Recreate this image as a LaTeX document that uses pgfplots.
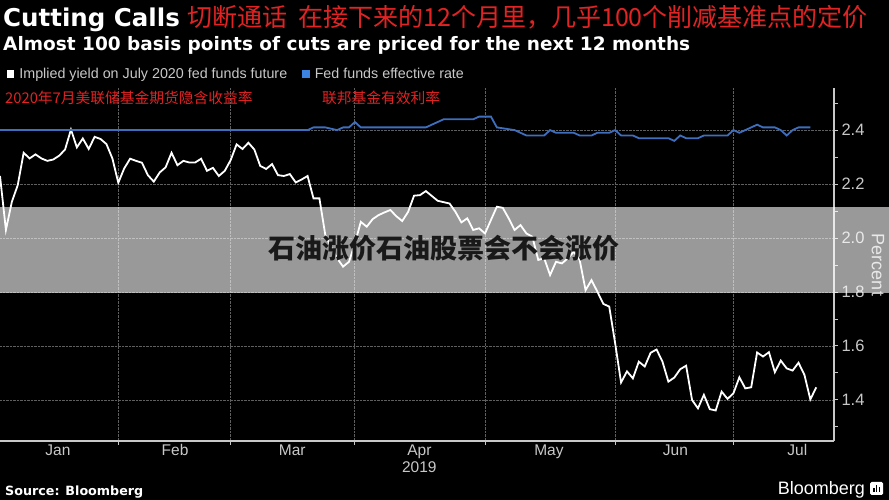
\documentclass[border=0pt]{standalone}
\usepackage{pgfplots}
\usepackage{pgfplotstable}
\pgfplotsset{compat=1.18}
\usepackage{fontspec}
\setmainfont{Liberation Sans}
\newfontfamily\dejavu{DejaVu Sans}
\newfontfamily\cjk{Noto Sans CJK SC}

\definecolor{lightgray}{RGB}{200,200,200}
\definecolor{gridgray}{RGB}{95,95,95}
\definecolor{fedblue}{RGB}{62,110,190}
\definecolor{legblue}{RGB}{60,130,225}
\definecolor{cnred}{RGB}{225,35,35}
\definecolor{wmark}{RGB}{25,25,25}

% implied yield, July 2020 fed funds future (x = trading day of 2019)
\pgfplotstableread{
idx yield
1 2.230
2 2.030
3 2.134
4 2.196
5 2.316
6 2.295
7 2.310
8 2.295
9 2.286
10 2.291
11 2.305
12 2.328
13 2.402
14 2.336
15 2.369
16 2.330
17 2.375
18 2.367
19 2.348
20 2.295
21 2.205
22 2.258
23 2.294
24 2.286
25 2.279
26 2.233
27 2.209
28 2.243
29 2.262
30 2.316
31 2.270
32 2.286
33 2.280
34 2.280
35 2.294
36 2.249
37 2.260
38 2.230
39 2.249
40 2.289
41 2.347
42 2.330
43 2.353
44 2.328
45 2.267
46 2.256
47 2.274
48 2.233
49 2.230
50 2.237
51 2.206
52 2.217
53 2.230
54 2.147
55 2.147
56 2.011
57 1.965
58 1.925
59 1.894
60 1.912
61 1.980
62 2.060
63 2.042
64 2.070
65 2.085
66 2.095
67 2.104
68 2.081
69 2.063
70 2.097
71 2.157
72 2.159
73 2.174
74 2.156
75 2.138
76 2.133
77 2.128
78 2.097
79 2.058
80 2.073
81 2.030
82 2.036
83 2.017
84 2.067
85 2.116
86 2.112
87 2.073
88 2.030
89 2.048
90 2.017
91 2.005
92 1.919
93 1.925
94 1.863
95 1.912
96 1.906
97 1.925
98 1.949
99 1.919
100 1.807
101 1.844
102 1.801
103 1.756
104 1.746
105 1.610
106 1.465
107 1.506
108 1.480
109 1.542
110 1.524
111 1.575
112 1.587
113 1.542
114 1.468
115 1.483
116 1.514
117 1.527
118 1.400
119 1.369
120 1.419
121 1.366
122 1.361
123 1.431
124 1.404
125 1.425
126 1.484
127 1.443
128 1.447
129 1.576
130 1.561
131 1.577
132 1.503
133 1.546
134 1.517
135 1.509
136 1.538
137 1.493
138 1.402
139 1.447
}\implied

% fed funds effective rate
\pgfplotstableread{
idx rate
1 2.40
53 2.40
54 2.41
56 2.41
58 2.40
59 2.41
60 2.41
61 2.43
62 2.41
73 2.41
76 2.44
81 2.44
82 2.45
84 2.45
85 2.41
88 2.40
90 2.38
93 2.38
94 2.40
95 2.39
98 2.39
99 2.38
101 2.38
102 2.39
104 2.39
105 2.40
106 2.38
108 2.38
109 2.37
114 2.37
115 2.36
116 2.38
117 2.37
119 2.37
120 2.38
124 2.38
125 2.40
126 2.39
127 2.40
129 2.42
130 2.41
132 2.41
133 2.40
134 2.38
135 2.40
136 2.41
138 2.41
}\effective

\begin{document}
\begin{tikzpicture}
\fill[black] (0pt,0pt) rectangle (889pt,500pt);

\begin{axis}[
  at={(0pt,59pt)}, anchor=south west,
  scale only axis, width=834pt, height=353pt,
  xmin=1, xmax=142, ymin=1.248, ymax=2.556,
  axis x line*=bottom, axis y line*=right,
  axis line style={draw=lightgray, line width=1.2pt, -},
  tick align=outside,
  major tick length=4pt, minor tick length=4pt,
  every tick/.style={draw=lightgray, line width=1pt},
  xtick={21,40,61,83,105,125}, xticklabels={},
  extra x ticks={10.8,30.6,50.4,71.9,93.8,115.2,135.8},
  extra x tick labels={Jan,Feb,Mar,{Apr\\2019},May,Jun,Jul},
  extra x tick style={grid=none, major tick length=0pt},
  xticklabel style={text=lightgray, align=center, font=\fontsize{15.5}{17}\selectfont},
  ytick={1.4,1.6,1.8,2.0,2.2,2.4},
  minor ytick={1.3,1.5,1.7,1.9,2.1,2.3,2.5},
  yticklabel style={text=lightgray, font=\fontsize{16.5}{18}\selectfont,
    /pgf/number format/.cd, fixed, fixed zerofill, precision=1},
  /pgf/number format/assume math mode=true,
  grid=major,
  major grid style={draw=gridgray, densely dotted, line width=0.9pt},
  legend columns=-1,
  legend style={at={(0.008,1.0397)}, anchor=west, draw=none, fill=none,
    inner sep=0pt, text=lightgray, font=\fontsize{14.3}{16}\selectfont,
    /tikz/every odd column/.append style={column sep=3pt},
    /tikz/every even column/.append style={column sep=13pt}},
  legend image code/.code={\fill[#1] (0pt,-3.8pt) rectangle (7.5pt,3.8pt);},
]
\addplot[color=white, line width=1.8pt, forget plot] table[x=idx, y=yield]{\implied};
\addplot[color=fedblue, line width=1.8pt, forget plot] table[x=idx, y=rate]{\effective};
\addlegendimage{fill=white, draw=none}
\addlegendentry{Implied yield on July 2020 fed funds future}
\addlegendimage{fill=legblue, draw=none}
\addlegendentry{Fed funds effective rate}
\end{axis}

\node[anchor=center, rotate=-90, text=lightgray, font=\fontsize{18}{20}\selectfont]
  at (878pt,235pt) {Percent};

% titles
\node[anchor=base west, inner sep=0pt, text=white, font=\dejavu\bfseries\fontsize{24.5}{28}\selectfont]
  at (3pt,473pt) {Cutting Calls};
\node[anchor=base west, inner sep=0pt, text=cnred, font=\cjk\fontsize{25}{28}\selectfont]
  at (187pt,473pt) {切断通话\hspace{0.45em}在接下来的12个月里，几乎100个削减基准点的定价};
\node[anchor=base west, inner sep=0pt, text=white, font=\dejavu\bfseries\fontsize{18.5}{21}\selectfont]
  at (3pt,449pt) {Almost 100 basis points of cuts are priced for the next 12 months};
\node[anchor=west, inner sep=0pt, text=cnred, font=\cjk\fontsize{14.75}{17}\selectfont]
  at (5pt,402pt) {2020年7月美联储基金期货隐含收益率};
\node[anchor=west, inner sep=0pt, text=cnred, font=\cjk\fontsize{14.75}{17}\selectfont]
  at (322pt,402pt) {联邦基金有效利率};

% footer
\node[anchor=base west, inner sep=0pt, text=white, font=\dejavu\bfseries\fontsize{12.7}{14}\selectfont]
  at (5pt,4pt) {Source: Bloomberg};
\node[anchor=base east, inner sep=0pt, text=white, font=\fontsize{18}{20}\selectfont]
  at (865pt,5pt) {Bloomberg};
\fill[white, rounded corners=1.5pt] (870pt,5pt) rectangle (883pt,18pt);
\fill[black] (873pt,8pt) rectangle (874.5pt,12pt);
\fill[black] (875.8pt,8pt) rectangle (877.3pt,15pt);
\fill[black] (878.6pt,8pt) rectangle (880.1pt,13pt);

% watermark band
\fill[white, opacity=0.6] (0pt,207pt) rectangle (889pt,293pt);
\node[anchor=center, text=wmark, font=\cjk\bfseries\fontsize{27}{30}\selectfont]
  at (444pt,252pt) {石油涨价石油股票会不会涨价};

\pgfresetboundingbox
\useasboundingbox (0pt,0pt) rectangle (889pt,500pt);
\end{tikzpicture}
\end{document}
